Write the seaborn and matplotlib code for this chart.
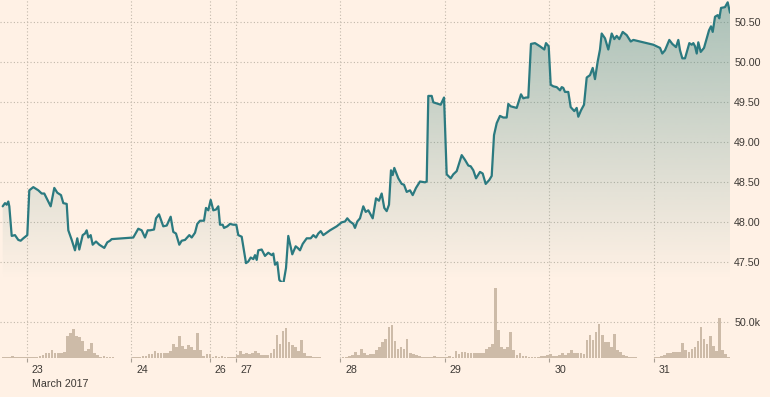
import matplotlib
matplotlib.use("Agg")
import matplotlib.pyplot as plt
import matplotlib.transforms as mtransforms
from matplotlib.colors import to_rgb
import numpy as np
import pandas as pd
import seaborn as sns

# price path: hours from the left edge of the chart (weekend squeezed out), price
price_hours = [
    0.42, 0.95, 1.34, 1.71, 1.94, 2.49, 3.24, 4.00, 4.55, 5.15,
    6.07, 6.53, 7.45, 8.60, 9.38, 9.97, 11.44, 12.27, 12.96, 13.81,
    14.34, 15.12, 15.49, 16.27, 17.02, 17.55, 18.01, 18.79, 19.32, 19.71,
    20.08, 20.63, 21.09, 21.85, 22.61, 23.75, 24.44, 25.06, 25.45, 30.41,
    31.56, 32.34, 33.10, 33.72, 34.25, 35.17, 35.63, 36.32, 37.30, 38.09,
    39.00, 39.60, 40.22, 40.98, 41.53, 42.29, 43.28, 43.83, 44.59, 45.11,
    45.73, 46.65, 47.11, 47.64, 48.19, 48.79, 49.41, 49.94, 50.33, 50.95,
    51.25, 52.01, 52.62, 53.38, 54.07, 54.53, 55.31, 56.30, 56.83, 57.38,
    57.98, 58.37, 58.76, 59.12, 59.90, 60.66, 61.42, 62.20, 62.57, 62.96,
    63.49, 63.95, 64.86, 65.49, 66.01, 66.93, 67.71, 68.17, 68.70, 69.32,
    70.24, 71.16, 71.76, 72.37, 72.90, 73.46, 74.05, 75.59, 77.13, 78.28,
    79.04, 79.56, 80.18, 80.94, 81.33, 81.86, 82.48, 83.24, 83.79, 84.39,
    85.40, 86.16, 86.84, 87.46, 88.06, 88.61, 89.14, 89.60, 89.99, 90.36,
    91.28, 92.06, 92.59, 93.21, 93.97, 94.59, 95.34, 96.26, 97.41, 97.80,
    98.17, 98.95, 99.32, 100.47, 101.02, 101.78, 102.39, 103.31, 103.91, 104.69,
    105.84, 106.60, 107.36, 107.91, 108.51, 109.13, 110.04, 110.66, 111.35, 112.18,
    112.73, 113.26, 113.88, 114.63, 115.39, 116.17, 116.54, 117.09, 118.47, 119.46,
    119.98, 120.61, 121.13, 121.75, 122.67, 123.82, 124.81, 125.20, 125.82, 126.28,
    126.88, 127.66, 128.42, 128.81, 129.17, 129.56, 130.32, 130.87, 131.70, 132.25,
    132.62, 133.24, 133.93, 134.55, 135.31, 135.93, 136.45, 137.07, 137.60, 137.99,
    138.75, 139.51, 140.29, 140.89, 141.44, 142.04, 142.82, 143.74, 144.66, 145.26,
    146.79, 149.85, 150.63, 151.39, 151.91, 152.53, 153.52, 154.21, 155.06, 155.59,
    155.98, 156.51, 157.13, 158.12, 158.67, 159.04, 159.43, 159.82, 160.18, 160.73,
    161.49, 162.11, 162.64, 163.10, 163.49, 164.02, 164.64, 165.01, 165.40, 166.31,
    166.93, 167.46,
]
price_values = [
    48.20, 48.24, 48.22, 48.26, 48.20, 47.83, 47.84, 47.78, 47.77, 47.80,
    47.84, 48.40, 48.44, 48.40, 48.36, 48.36, 48.20, 48.43, 48.37, 48.34,
    48.24, 48.23, 47.90, 47.78, 47.65, 47.80, 47.66, 47.84, 47.86, 47.90,
    47.81, 47.84, 47.72, 47.76, 47.72, 47.68, 47.75, 47.77, 47.79, 47.81,
    47.92, 47.90, 47.81, 47.90, 47.90, 47.91, 48.05, 48.10, 47.95, 47.96,
    48.07, 47.88, 47.86, 47.72, 47.77, 47.78, 47.84, 47.81, 47.87, 47.98,
    48.02, 48.02, 48.18, 48.15, 48.28, 48.15, 48.16, 48.20, 47.97, 47.97,
    47.93, 47.95, 47.98, 47.97, 47.97, 47.84, 47.82, 47.49, 47.51, 47.56,
    47.54, 47.59, 47.53, 47.65, 47.66, 47.58, 47.62, 47.59, 47.61, 47.47,
    47.50, 47.28, 47.23, 47.43, 47.83, 47.60, 47.70, 47.68, 47.65, 47.73,
    47.80, 47.80, 47.84, 47.81, 47.86, 47.89, 47.84, 47.90, 47.95, 48.00,
    48.01, 48.05, 48.01, 47.98, 47.93, 48.01, 48.05, 48.20, 48.13, 48.15,
    48.05, 48.30, 48.27, 48.36, 48.18, 48.14, 48.22, 48.65, 48.59, 48.68,
    48.55, 48.48, 48.47, 48.38, 48.40, 48.34, 48.43, 48.51, 48.50, 48.51,
    49.58, 49.58, 49.50, 49.48, 49.47, 49.56, 48.60, 48.55, 48.60, 48.64,
    48.84, 48.78, 48.71, 48.70, 48.65, 48.55, 48.63, 48.61, 48.48, 48.53,
    48.58, 49.09, 49.24, 49.33, 49.31, 49.31, 49.48, 49.45, 49.43, 49.60,
    49.55, 49.56, 49.56, 50.23, 50.24, 50.20, 50.16, 50.24, 50.20, 49.72,
    49.70, 49.69, 49.65, 49.69, 49.68, 49.63, 49.63, 49.44, 49.39, 49.43,
    49.32, 49.40, 49.47, 49.81, 49.84, 49.93, 49.79, 50.01, 50.16, 50.36,
    50.30, 50.16, 50.36, 50.29, 50.33, 50.29, 50.38, 50.34, 50.26, 50.28,
    50.26, 50.22, 50.20, 50.18, 50.11, 50.15, 50.28, 50.23, 50.19, 50.28,
    50.15, 50.05, 50.05, 50.24, 50.22, 50.24, 50.20, 50.11, 50.25, 50.13,
    50.18, 50.30, 50.40, 50.45, 50.38, 50.57, 50.59, 50.55, 50.68, 50.69,
    50.75, 50.62,
]

# volume in thousands, one bar every 0.7 h inside each trading block
bar_step = 0.7
session_starts = [0.25, 30.2, 78.3, 150.0]
vol_block_1 = [
    1, 1, 1.5, 2.5, 1.5, 1, 1, 1,
    1, 1, 1.5, 1.5, 2.5, 4, 6, 7, 11, 6, 6, 7, 7.5, 31, 35, 40.5, 31, 29,
    23.5, 10, 13, 21, 6, 4, 1.5, 2.5, 1.5, 1, 1,
]
vol_block_2 = [
    1.5, 1.5, 1, 2, 2.5, 5, 5, 10, 6, 7, 7, 7, 10, 20, 14.5, 30, 16.5, 13,
    18, 15, 11, 35, 11, 2, 4.7, 4.7, 1, 3, 1, 3, 1, 1, 1, 1,
    3.8, 9.5, 5.2, 6, 5.2, 6, 9.5, 6, 3.8, 3.8, 3.8, 7, 11.7, 32, 20, 37.7,
    41.4, 22.6, 18, 15.5, 10, 25, 6, 2.4, 2.4, 1.4, 1.4, 1,
]
vol_block_3 = [
    1, 1.4, 2.4, 3.2, 8.5, 3.2, 13, 6, 4.2, 5.2,
    5.5, 11, 15.5, 22.6, 27, 44, 46, 24, 11.7, 15.5,
    13, 27, 7, 5.2, 3.2, 1.8, 1.4, 1.4, 1, 1,
    2.4, 1.4, 1.4, 1, 1, 1.8, 1.4, 9.5, 5.2, 8,
    8, 6, 6, 7, 6, 6, 6, 13, 15.5, 20,
    99, 39, 14.5, 13, 14.5, 36.7, 11, 4, 6, 2.4,
    2.4, 1, 1, 1, 1, 1.8, 2.4, 3.8, 5.2, 2.4,
    2.4, 4.2, 6, 3.8, 6, 11, 7, 6, 6, 5.2,
    25, 32, 25, 36.7, 47.6, 32, 22.6, 22.6, 15.5, 34,
    11, 8.5, 3.8, 2.4, 1.4, 1, 1,
]
vol_block_4 = [
    1, 1.4, 2.4, 3.8, 6, 7, 7.5, 7.5, 8.5, 21, 11, 8.5, 11.7, 15.5, 24,
    42.8, 26, 20, 31, 16.5, 10, 55.5, 11, 4.7, 1.4,
]

day_ticks = [6, 30, 48, 54, 78, 102, 126, 150]
day_labels = ["23", "24", "26", "27", "28", "29", "30", "31"]
month_label = "March 2017"
price_ticks = [47.5, 48.0, 48.5, 49.0, 49.5, 50.0, 50.5]
volume_ticks = [50]
volume_tick_labels = ["50.0k"]

BG = "#fff1e5"
LINE = "#2b7a80"
FILL = "#3c827d"
BARS = "#cdbba8"
GRID = "#c2b8ab"
TEXT = "#3d3935"

sns.set_theme(style="white")
plt.rcParams["font.family"] = ["Liberation Sans", "DejaVu Sans"]
plt.rcParams["font.size"] = 7.7

price_df = pd.DataFrame({"hours": price_hours, "price": price_values})
vol_rows = []
for start, vols in zip(session_starts, [vol_block_1, vol_block_2, vol_block_3, vol_block_4]):
    for i, v in enumerate(vols):
        vol_rows.append({"hours": start + bar_step * i, "volume": v})
vol_df = pd.DataFrame(vol_rows)

W, H = 770, 397
fig = plt.figure(figsize=(W / 100, H / 100), dpi=100, facecolor=BG)
ax = fig.add_axes([0, (H - 282) / H, 730 / W, 282 / H])
axv = fig.add_axes([0, (H - 357.7) / H, 730 / W, 75.7 / H])

xmin, xmax = -0.2, 167.46
ptop, pbot = 50.779, 47.254
fill_floor = 47.28

for a in (ax, axv):
    a.set_facecolor("none")
    for s in a.spines.values():
        s.set_visible(False)

# gradient area under the price line
poly = ax.fill_between(price_df.hours, price_df.price, fill_floor,
                       facecolor="none", edgecolor="none")
grad = np.zeros((256, 1, 4))
grad[..., :3] = to_rgb(FILL)
grad[..., 3] = np.linspace(0.0, 0.44, 256)[:, None]
im = ax.imshow(grad, extent=[xmin, xmax, fill_floor, ptop], origin="lower",
               aspect="auto", zorder=1, interpolation="bilinear")
im.set_clip_path(poly.get_paths()[0], transform=ax.transData)

sns.lineplot(data=price_df, x="hours", y="price", ax=ax, color=LINE,
             linewidth=1.6, estimator=None, sort=False, zorder=3)

ax.set_xlim(xmin, xmax)
ax.set_ylim(pbot, ptop)
ax.set_xlabel("")
ax.set_ylabel("")
ax.set_xticks(day_ticks)
ax.tick_params(axis="x", length=0, labelbottom=False)
ax.yaxis.tick_right()
ax.set_yticks(price_ticks)
ax.set_yticklabels([f"{t:.2f}" for t in price_ticks])
ax.tick_params(axis="y", length=0, pad=3, labelcolor=TEXT, labelsize=7.7)
ax.grid(True, color=GRID, linestyle=(0, (1, 2)), linewidth=0.8)
ax.set_axisbelow(True)

# volume panel
axv.bar(vol_df.hours, vol_df.volume, width=bar_step * 0.88, color=BARS,
        linewidth=0, align="edge", zorder=2)
axv.set_xlim(xmin, xmax)
axv.set_ylim(0, 107)
axv.yaxis.tick_right()
axv.set_yticks(volume_ticks)
axv.set_yticklabels(volume_tick_labels)
axv.tick_params(axis="y", length=0, pad=3, labelcolor=TEXT, labelsize=7.7)
axv.set_xticks(day_ticks)
axv.set_xticklabels(day_labels, ha="left")
axv.tick_params(axis="x", length=3, width=0.8, color="#a89f94", pad=2.5,
                labelcolor=TEXT, labelsize=7.7, bottom=True)
offset = mtransforms.ScaledTranslation(5 / 100, 0, fig.dpi_scale_trans)
for lab in axv.get_xticklabels():
    lab.set_transform(lab.get_transform() + offset)
axv.grid(True, color=GRID, linestyle=(0, (1, 2)), linewidth=0.8)
axv.set_axisbelow(True)

fig.text(32 / W, 1 - 384 / H, month_label, ha="left", va="center",
         color=TEXT, fontsize=7.7)

fig.savefig("out.png", dpi=100, facecolor=BG)
